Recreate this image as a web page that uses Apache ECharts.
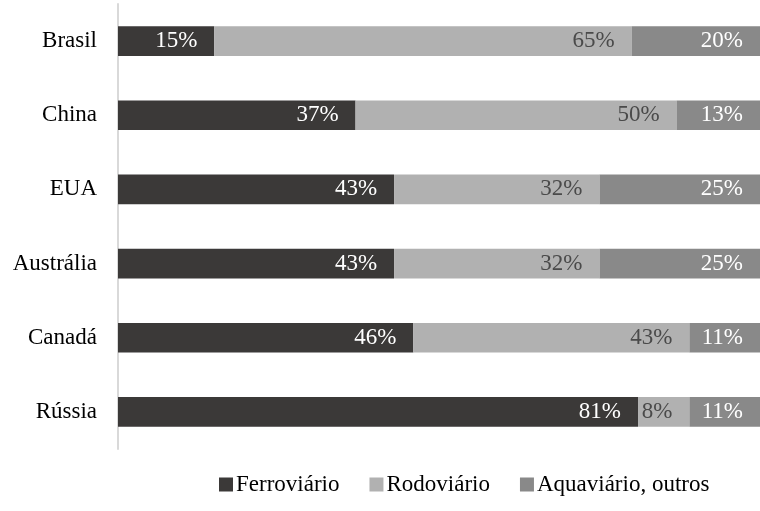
<!DOCTYPE html>
<html>
<head>
<meta charset="utf-8">
<script src="https://cdn.jsdelivr.net/npm/echarts@6/dist/echarts.min.js"></script>
<style>
  html, body { margin: 0; padding: 0; background: #fff; }
  #chart { width: 760px; height: 511px; }
</style>
</head>
<body>
<div id="chart"></div>
<script>
const countries = ["Brasil", "China", "EUA", "Austrália", "Canadá", "Rússia"];
const ferroviario = [15, 37, 43, 43, 46, 81];
const rodoviario = [65, 50, 32, 32, 43, 8];
const aquaviario = [20, 13, 25, 25, 11, 11];
const seriesNames = ["Ferroviário", "Rodoviário", "Aquaviário, outros"];

const FONT = "'Liberation Serif', 'Times New Roman', serif";

function makeSeries(name, data, color, labelColor) {
    return {
        name: name,
        type: "bar",
        stack: "total",
        barWidth: "40%",
        data: data,
        itemStyle: { color: color },
        label: {
            show: true,
            position: "insideRight",
            distance: 17,
            formatter: "{c}%",
            color: labelColor,
            fontFamily: FONT,
            fontSize: 23,
        },
        emphasis: { disabled: true },
    };
}

const chart = echarts.init(document.getElementById("chart"));
chart.setOption({
    backgroundColor: "#fff",
    animation: false,
    textStyle: { fontFamily: FONT },
    grid: {
        left: 118,
        top: 4,
        width: 650,
        height: 445,
    },
    xAxis: {
        type: "value",
        min: 0,
        max: 100,
        show: false,
    },
    yAxis: {
        type: "category",
        inverse: true,
        data: countries,
        axisLine: { show: true, lineStyle: { color: "#d9d9d9", width: 2 } },
        axisTick: { show: false },
        axisLabel: {
            margin: 21,
            color: "#000",
            fontFamily: FONT,
            fontSize: 23,
        },
    },
    legend: {
        data: seriesNames,
        top: 468,
        left: 214,
        icon: "rect",
        itemWidth: 14,
        itemHeight: 14,
        itemGap: 30,
        textStyle: {
            color: "#000",
            fontFamily: FONT,
            fontSize: 23,
            padding: [0, 0, 0, -2],
        },
    },
    series: [
        makeSeries(seriesNames[0], ferroviario, "#3b3938", "#ffffff"),
        makeSeries(seriesNames[1], rodoviario, "#b1b1b1", "#4a4a4a"),
        makeSeries(seriesNames[2], aquaviario, "#898989", "#ffffff"),
    ],
});
</script>
</body>
</html>
